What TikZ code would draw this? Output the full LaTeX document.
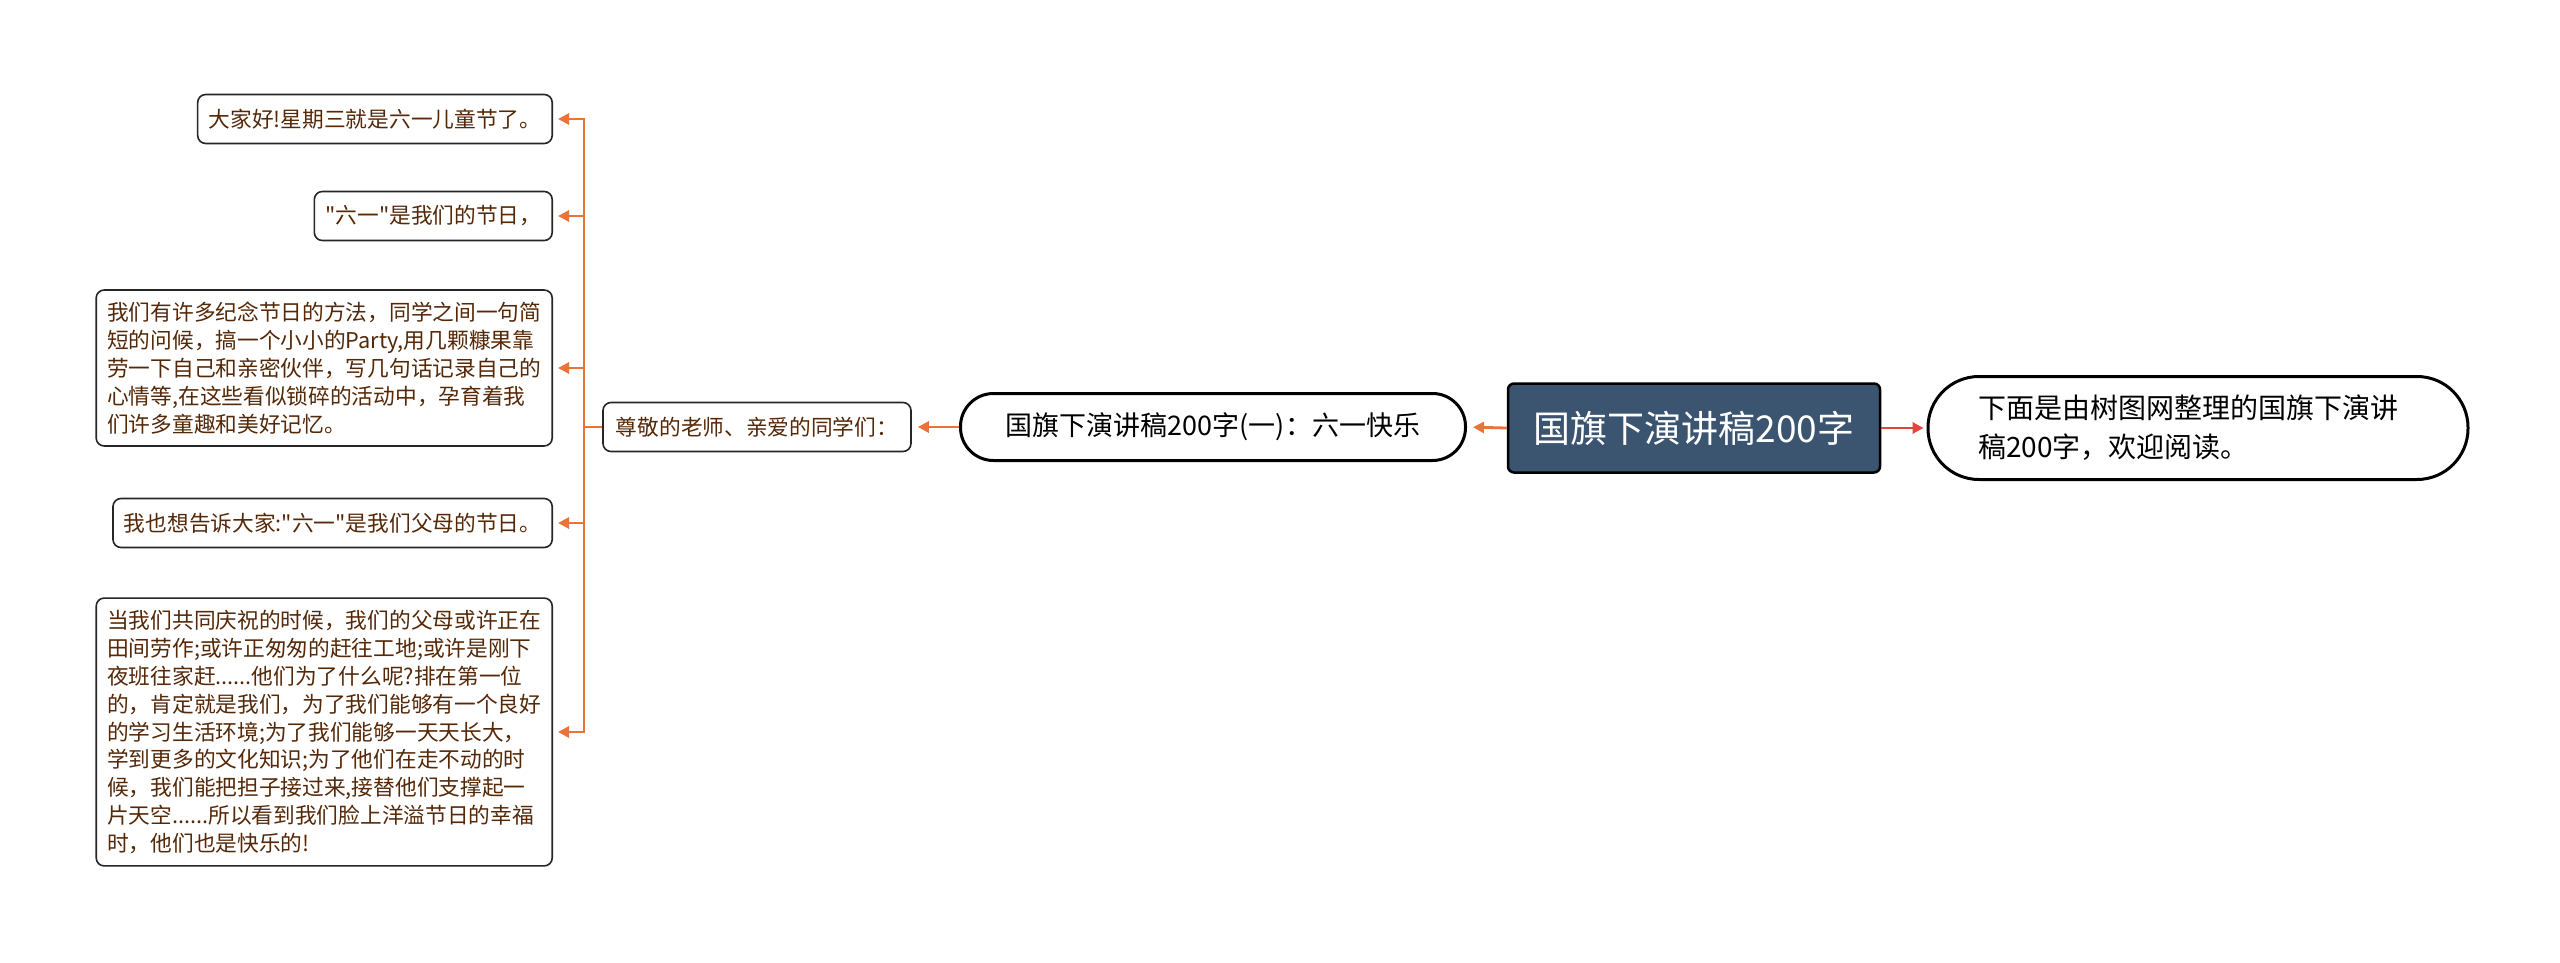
\documentclass[tikz,border=0pt]{standalone}
\usepackage{fontspec}
\setmainfont{Noto Sans CJK SC}[Ligatures=TeXOff]
\usetikzlibrary{arrows.meta}
\definecolor{branchorange}{HTML}{E8743B}
\definecolor{linkred}{HTML}{E2453C}
\definecolor{rootblue}{HTML}{3B5470}
\definecolor{leafbrown}{HTML}{552808}
\begin{document}
\begin{tikzpicture}[x=1pt,y=-1pt,
    leaf/.style={draw=black!85,line width=1.6pt,rounded corners=8pt,text=leafbrown,
      font=\fontsize{21.7}{27.9}\selectfont,align=left,inner xsep=11pt,inner ysep=12pt,
      minimum height=49pt,anchor=east},
    pill/.style={draw=black,line width=3pt,align=left,inner xsep=0pt},
    conn/.style={draw=branchorange,line width=2.8pt,-{Triangle[length=11pt,width=11pt]},shorten >=6pt}]
  \useasboundingbox[fill=white] (0,0) rectangle (2560,963);
  % centre
  \node[draw=black,line width=2.5pt,fill=rootblue,rounded corners=6pt,text=white,
    font=\fontsize{37}{44}\selectfont,minimum width=372pt,minimum height=89pt] (root) at (1694,428) {国旗下演讲稿200字};
  \node[pill,rounded corners=51pt,minimum width=540pt,minimum height=103pt,text width=440pt,
    font=\fontsize{28}{39}\selectfont] (intro) at (2198,428) {\noindent{}下面是由树图网整理的国旗下演讲\\稿200字，欢迎阅读。};
  \node[pill,rounded corners=33pt,minimum width=505pt,minimum height=67pt,
    font=\fontsize{27}{32}\selectfont] (sub) at (1213,427) {国旗下演讲稿200字(一)：六一快乐};
  \node[leaf,anchor=center,minimum width=308pt] (greet) at (757,427) {尊敬的老师、亲爱的同学们：};
  % leaves
  \node[leaf] (l1) at (553,119) {大家好!星期三就是六一儿童节了。};
  \node[leaf] (l2) at (553,216) {"六一"是我们的节日，};
  \node[leaf] (l3) at (553,368) {我们有许多纪念节日的方法，同学之间一句简\\短的问候，搞一个小小的Party,用几颗糠果靠\\劳一下自己和亲密伙伴，写几句话记录自己的\\心情等,在这些看似锁碎的活动中，孕育着我\\们许多童趣和美好记忆。};
  \node[leaf] (l4) at (553,523) {我也想告诉大家:"六一"是我们父母的节日。};
  \node[leaf] (l5) at (553,732) {当我们共同庆祝的时候，我们的父母或许正在\\田间劳作;或许正匆匆的赶往工地;或许是刚下\\夜班往家赶......他们为了什么呢?排在第一位\\的，肯定就是我们，为了我们能够有一个良好\\的学习生活环境;为了我们能够一天天长大，\\学到更多的文化知识;为了他们在走不动的时\\候，我们能把担子接过来,接替他们支撑起一\\片天空......所以看到我们脸上洋溢节日的幸福\\时，他们也是快乐的!};
  \coordinate (hub) at (584,427);
  \draw[conn,linkred,shorten >=3pt] (root.east) -- (intro.west);
  \draw[conn] (root.west) -- (sub.east);
  \draw[conn] (sub.west) -- (greet.east);
  \draw[draw=branchorange,line width=2.8pt] (greet.west) -- (hub);
  \foreach \n in {l1,l2,l3,l4,l5}
    \draw[conn,shorten >=5pt] (hub) |- (\n.east);
\end{tikzpicture}
\end{document}
